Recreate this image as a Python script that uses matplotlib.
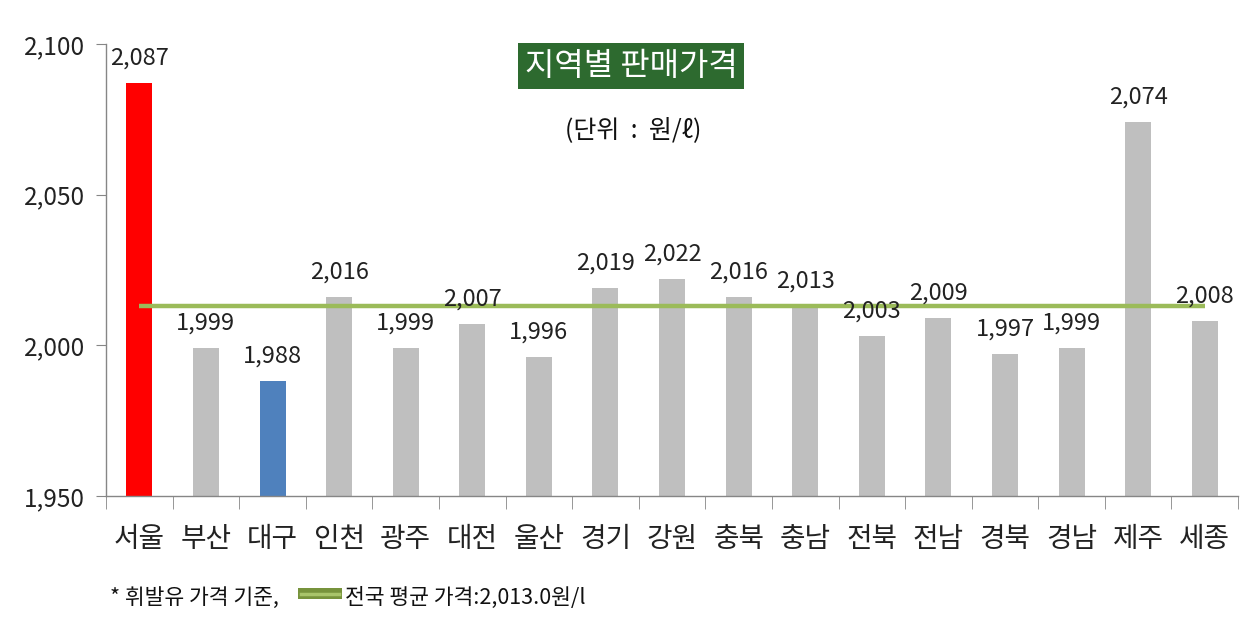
import matplotlib
matplotlib.use("Agg")
import matplotlib.pyplot as plt
from matplotlib.patches import Rectangle
from matplotlib.lines import Line2D

plt.rcParams['font.family'] = ['Noto Sans CJK KR', 'DejaVu Sans']

regions = ['서울', '부산', '대구', '인천', '광주', '대전', '울산', '경기', '강원',
           '충북', '충남', '전북', '전남', '경북', '경남', '제주', '세종']
prices = [2087, 1999, 1988, 2016, 1999, 2007, 1996, 2019, 2022,
          2016, 2013, 2003, 2009, 1997, 1999, 2074, 2008]
national_avg = 2013.0
yticks = [1950, 2000, 2050, 2100]

colors = ['#BFBFBF'] * len(regions)
colors[0] = '#FF0000'
colors[2] = '#4F81BD'

fig = plt.figure(figsize=(12.55, 6.26), dpi=100)
ax = fig.add_axes([0.0845, 0.2077, 0.902, 0.722])

x = list(range(len(regions)))
ax.bar(x, [p - yticks[0] for p in prices], bottom=yticks[0], width=0.39,
       color=colors, zorder=2)
ax.plot([x[0], x[-1]], [national_avg, national_avg], color='#9BBB59',
        linewidth=3.2, zorder=3, solid_capstyle='butt')

for xi, p in zip(x, prices):
    ax.annotate(f'{p:,}', (xi, p), xytext=(0, 18), textcoords='offset points',
                ha='center', va='center', fontsize=17, color='#222222', zorder=4)

ax.set_xlim(-0.5, len(regions) - 0.5)
ax.set_ylim(yticks[0], yticks[-1])
ax.set_yticks(yticks)
ax.set_yticklabels([f'{v:,}' for v in yticks], fontsize=17.5, color='#222222')
ax.set_xticks(x)
ax.set_xticklabels(regions, fontsize=20, color='#222222')
ax.set_xticks([i - 0.5 for i in range(len(regions) + 1)], minor=True)
ax.tick_params(axis='x', which='major', length=0, pad=20)
ax.tick_params(axis='x', which='minor', length=9, color='#868686', direction='out')
ax.tick_params(axis='y', length=7, color='#868686', direction='out', pad=8)

for s in ['top', 'right']:
    ax.spines[s].set_visible(False)
for s in ['left', 'bottom']:
    ax.spines[s].set_color('#868686')
    ax.spines[s].set_linewidth(1.0)

fig.text(631 / 1255, 1 - 66 / 626, '지역별 판매가격', ha='center', va='center',
         fontsize=23, color='white',
         bbox=dict(boxstyle='square,pad=0.22', facecolor='#2D6A2F', edgecolor='none'))
fig.text(633 / 1255, 1 - 130 / 626, '(단위  :  원/ℓ)', ha='center', va='center',
         fontsize=18, color='#111111')

fy = 1 - 598 / 626
fig.text(110 / 1255, fy, '* 휘발유 가격 기준,', ha='left', va='center',
         fontsize=15.5, color='#111111')
fig.patches.append(Rectangle((298 / 1255, 1 - 599 / 626), 44 / 1255, 11 / 626,
                             transform=fig.transFigure, facecolor='#77933C',
                             edgecolor='none'))
fig.lines.append(Line2D([301 / 1255, 339 / 1255], [1 - 593.5 / 626, 1 - 593.5 / 626],
                        transform=fig.transFigure, color='#A8C46A', linewidth=2.5))
fig.text(345 / 1255, fy, '전국 평균 가격:2,013.0원/l', ha='left', va='center',
         fontsize=15.5, color='#111111')

fig.savefig('out.png', dpi=100)
